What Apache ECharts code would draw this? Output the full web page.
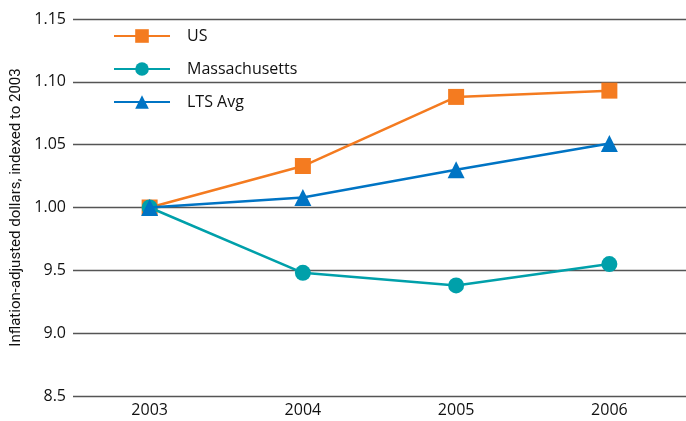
<!DOCTYPE html>
<html><head><meta charset="utf-8">
<script src="https://cdn.jsdelivr.net/npm/echarts@6/dist/echarts.min.js"></script>
<style>html,body{margin:0;padding:0;background:#fff}#c{width:686px;height:421px}</style>
</head><body><div id="c"></div>
<script>
var categories = ['2003', '2004', '2005', '2006'];
var usValues = [1.000, 1.033, 1.088, 1.093];
var maValues = [1.000, 0.948, 0.938, 0.955];
var ltsValues = [1.000, 1.008, 1.030, 1.051];
var tickValues = [0.85, 0.90, 0.95, 1.00, 1.05, 1.10, 1.15];
var tickLabels = ['8.5', '9.0', '9.5', '1.00', '1.05', '1.10', '1.15'];
var yTitle = 'Inflation-adjusted dollars, indexed to 2003';

var font = 'Open Sans';
var chart = echarts.init(document.getElementById('c'));
chart.setOption({
  animation: false,
  grid: { left: 73, right: 0, top: 19, bottom: 25 },
  legend: {
    orient: 'vertical', left: 108, top: 23, itemWidth: 56, itemHeight: 17, itemGap: 17,
    textStyle: { fontFamily: font, fontSize: 16, color: '#111', padding: [0,0,0,12] },
    data: ['US', 'Massachusetts', 'LTS Avg']
  },
  xAxis: {
    type: 'category', data: categories, boundaryGap: true,
    axisLine: { show: false }, axisTick: { show: false },
    axisLabel: { fontFamily: font, fontSize: 16, color: '#111', margin: 6 }
  },
  yAxis: {
    type: 'value', min: 0.85, max: 1.15, interval: 0.05,
    name: yTitle, nameLocation: 'middle', nameGap: 43,
    nameTextStyle: { fontFamily: 'Roboto', fontSize: 15, color: '#111' },
    axisLine: { show: false }, axisTick: { show: false },
    axisLabel: { fontFamily: font, fontSize: 16, color: '#111', margin: 7,
      formatter: function (v) {
        for (var i = 0; i < tickValues.length; i++) if (Math.abs(v - tickValues[i]) < 1e-6) return tickLabels[i];
        return '';
      } },
    splitLine: { lineStyle: { color: '#555', width: 1.3 } }
  },
  series: [
    { name: 'US', type: 'line', data: usValues, symbol: 'rect', symbolSize: 16,
      itemStyle: { color: '#F47B20' }, lineStyle: { color: '#F47B20', width: 2.5 }, z: 2 },
    { name: 'Massachusetts', type: 'line', data: maValues, symbol: 'circle', symbolSize: 16,
      itemStyle: { color: '#00A0AA' }, lineStyle: { color: '#00A0AA', width: 2.5 }, z: 3 },
    { name: 'LTS Avg', type: 'line', data: ltsValues, symbol: 'triangle', symbolSize: 17,
      itemStyle: { color: '#0074C4' }, lineStyle: { color: '#0074C4', width: 2.5 }, z: 4 }
  ]
});
</script></body></html>
